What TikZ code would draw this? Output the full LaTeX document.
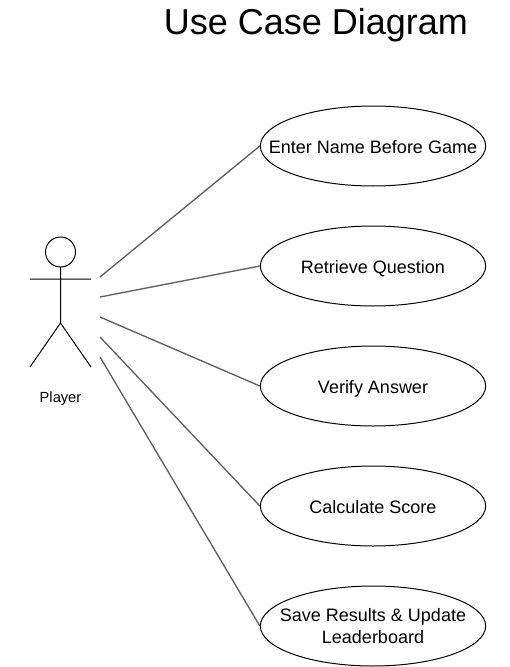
\documentclass[tikz,border=0pt]{standalone}
\usepackage{fontspec}
\setmainfont{Liberation Sans}
\usetikzlibrary{shapes.geometric}
\definecolor{linegray}{RGB}{95,95,95}
\tikzset{
  usecase/.style={draw=black,line width=0.75pt,fill=white,ellipse,minimum width=169pt,minimum height=60pt,inner sep=0pt},
  uctext/.style={align=center,inner sep=0pt,yshift=-2.3pt,font=\fontsize{13.5pt}{16.5pt}\selectfont,execute at begin node=\strut,execute at end node=\strut},
  assoc/.style={draw=linegray,line width=1pt},
  stick/.style={draw=black,line width=0.75pt}
}
\begin{document}
\begin{tikzpicture}[x=0.75pt,y=-0.75pt]
\useasboundingbox (0,0) rectangle (510,667);
\node[font=\fontsize{27pt}{32pt}\selectfont,anchor=center] (title) at (316,25) {Use Case Diagram};
\node[usecase,label={[uctext]center:Enter Name Before Game}] (uc1) at (373,146) {};
\node[usecase,label={[uctext]center:Retrieve Question}] (uc2) at (373,266) {};
\node[usecase,label={[uctext]center:Verify Answer}] (uc3) at (373,386) {};
\node[usecase,label={[uctext]center:Calculate Score}] (uc4) at (373,506) {};
\node[usecase,label={[uctext]center:{Save Results \& Update\\Leaderboard}}] (uc5) at (373,626) {};
\node[font=\fontsize{11pt}{13pt}\selectfont] (player) at (60.5,399) {Player};
\coordinate (head) at (60.5,252);
\draw[stick] (head) circle[radius=15];
\draw[stick] (60.5,267) -- (60.5,323) (30,279) -- (91,279) (30,367) -- (60.5,323) -- (91,367);
\coordinate (a1) at (100,277);
\coordinate (a2) at (100,297);
\coordinate (a3) at (100,317);
\coordinate (a4) at (100,337);
\coordinate (a5) at (100,357);
\draw[assoc] (a1) -- (uc1.west);
\draw[assoc] (a2) -- (uc2.west);
\draw[assoc] (a3) -- (uc3.west);
\draw[assoc] (a4) -- (uc4.west);
\draw[assoc] (a5) -- (uc5.west);
\end{tikzpicture}
\end{document}
